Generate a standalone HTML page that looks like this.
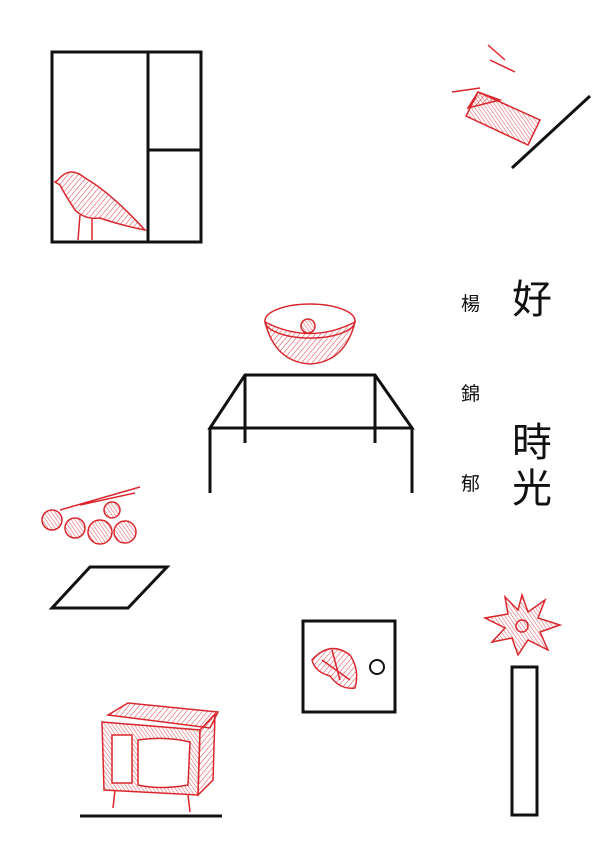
<!DOCTYPE html>
<html><head><meta charset="utf-8"><style>
html,body{margin:0;padding:0;background:#fff;width:600px;height:851px;overflow:hidden}
svg{display:block}
text{font-family:"Liberation Sans","Noto Sans CJK TC",sans-serif}
</style></head><body>
<svg width="600" height="851" viewBox="0 0 600 851" xmlns="http://www.w3.org/2000/svg">
<defs>
<pattern id="h" width="4" height="4" patternUnits="userSpaceOnUse" patternTransform="rotate(40)">
<line x1="0" y1="0" x2="0" y2="4" stroke="#d9262c" stroke-width="0.9"/>
</pattern>
<pattern id="h2" width="3" height="3" patternUnits="userSpaceOnUse" patternTransform="rotate(-35)">
<line x1="0" y1="0" x2="0" y2="3" stroke="#d9262c" stroke-width="0.8"/>
</pattern>
</defs>
<g fill="none" stroke="#111" stroke-width="3">
<rect x="52" y="52" width="149" height="190"/>
<line x1="148" y1="52" x2="148" y2="242"/>
<line x1="148" y1="150" x2="201" y2="150"/>
<line x1="512" y1="168" x2="590" y2="96"/>
<path d="M245 375 H375 L412 428 H210 Z"/>
<line x1="210" y1="428" x2="210" y2="493"/>
<line x1="412" y1="428" x2="412" y2="493"/>
<line x1="245" y1="375" x2="245" y2="443"/>
<line x1="375" y1="375" x2="375" y2="443"/>
<path d="M52 608 L90 567 H167 L128 608 Z"/>
<rect x="303" y="621" width="92" height="91"/>
<circle cx="377" cy="667" r="7" stroke-width="2"/>
<rect x="512" y="667" width="25" height="148"/>
<line x1="80" y1="816" x2="222" y2="816"/>
</g>
<g stroke="#d9262c" stroke-width="1.5">
<!-- bird -->
<path fill="url(#h)" d="M58 180 Q70 165 85 178 Q110 192 145 230 Q120 225 100 218 Q85 220 75 210 Q65 195 60 185 L55 182 Z"/>
<path fill="none" d="M80 215 L78 240 M92 218 L92 240"/>
<!-- matchbox -->
<path fill="url(#h2)" d="M478 92 L540 120 L528 145 L466 116 Z"/>
<path fill="url(#h)" d="M478 92 L468 108 L500 100 Z"/>
<path fill="none" d="M452 92 L480 88"/>
<path fill="none" d="M488 45 L505 60 M490 60 L515 72"/>
<!-- bowl -->
<path fill="url(#h)" d="M265 322 Q275 362 310 364 Q345 362 355 322 Q310 345 265 322 Z"/>
<ellipse fill="none" cx="310" cy="321" rx="45" ry="17"/>
<circle cx="308" cy="326" r="7" fill="url(#h2)"/>
<!-- lychee -->
<path fill="none" d="M60 510 L140 487 M80 505 L135 493"/>
<g fill="url(#h2)">
<circle cx="52" cy="520" r="10"/><circle cx="75" cy="528" r="10"/>
<circle cx="100" cy="532" r="12"/><circle cx="125" cy="532" r="11"/>
<circle cx="112" cy="510" r="8"/>
</g>
<!-- flowers in box -->
<path fill="url(#h)" d="M312 660 Q330 640 350 655 Q360 670 355 688 Q340 690 330 676 Q315 672 312 660 Z"/>
<path fill="none" d="M332 650 L340 680 M322 660 L350 680"/>
<!-- succulent -->
<path fill="url(#h2)" d="M522 595 L528 612 L545 600 L538 618 L560 625 L540 632 L548 650 L528 640 L518 655 L512 638 L492 642 L505 628 L485 618 L508 614 L505 597 L518 610 Z"/>
<circle fill="none" cx="522" cy="626" r="6"/>
<!-- TV -->
<path fill="url(#h)" d="M108 715 L128 703 L218 712 L210 728 Z"/>
<path fill="url(#h2)" d="M102 722 L200 730 L198 795 L104 790 Z"/>
<path fill="url(#h)" d="M200 730 L215 714 L213 780 L198 795 Z"/>
<rect fill="#fff" x="112" y="735" width="20" height="48"/>
<path fill="#fff" d="M138 740 Q165 736 190 742 L188 785 Q160 790 138 785 Z"/>
<path fill="none" d="M115 790 L113 808 M188 795 L190 812"/>
</g>
<g fill="#111">
<text x="512" y="313" font-size="40">好</text>
<text x="512" y="456" font-size="40">時</text>
<text x="512" y="502" font-size="40">光</text>
<text x="461" y="310" font-size="19">楊</text>
<text x="461" y="400" font-size="19">錦</text>
<text x="461" y="490" font-size="19">郁</text>
</g>
</svg>
</body></html>
